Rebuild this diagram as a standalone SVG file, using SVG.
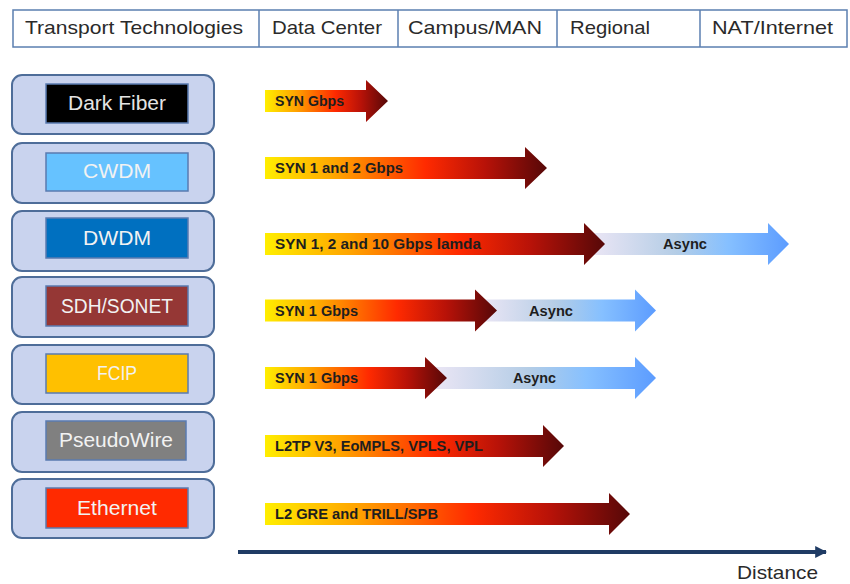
<svg xmlns="http://www.w3.org/2000/svg" width="850" height="584" viewBox="0 0 850 584">
<defs>
<linearGradient id="gSyn" x1="0" y1="0" x2="1" y2="0">
<stop offset="0" stop-color="#ffee00"/>
<stop offset="0.25" stop-color="#ffa400"/>
<stop offset="0.57" stop-color="#ff2a00"/>
<stop offset="0.78" stop-color="#b81208"/>
<stop offset="1" stop-color="#560808"/>
</linearGradient>
<linearGradient id="gAsync" x1="0" y1="0" x2="1" y2="0">
<stop offset="0" stop-color="#f0e8f6"/>
<stop offset="0.45" stop-color="#b4cde6"/>
<stop offset="0.7" stop-color="#86c0ff"/>
<stop offset="1" stop-color="#5c9cff"/>
</linearGradient>
<marker id="axisHead" viewBox="0 0 10 10" refX="9" refY="5" markerWidth="3" markerHeight="3" orient="auto">
<path d="M0,0 L10,5 L0,10 Z" fill="#1f3b64"/>
</marker>
</defs>
<style>
.hdr{fill:#ffffff;stroke:#5b7fb0;stroke-width:1.5}
.hdrline{stroke:#5b7fb0;stroke-width:1.5}
.htxt{font-family:"Liberation Sans",Arial,sans-serif;font-size:19px;fill:#2a2a2a}
.outer{fill:#c9d3ee;stroke:#4e6d99;stroke-width:2}
.inner{stroke:#5a7bb0;stroke-width:1.5}
.ntxt{font-family:"Liberation Sans",Arial,sans-serif;font-size:20px;fill:#f2f2f2;text-anchor:middle}
.syn{fill:url(#gSyn)}
.async{fill:url(#gAsync)}
.atxt{font-family:"Liberation Sans",Arial,sans-serif;font-size:14px;font-weight:bold;fill:#1e1e1e}
.axis{stroke:#1f3b64;stroke-width:4;fill:none}
</style>
<rect width="850" height="584" fill="#ffffff"/>

<g id="header">
<rect class="hdr" x="13" y="10" width="834" height="37"/>
<line class="hdrline" x1="259" y1="10" x2="259" y2="47"/>
<line class="hdrline" x1="398" y1="10" x2="398" y2="47"/>
<line class="hdrline" x1="557" y1="10" x2="557" y2="47"/>
<line class="hdrline" x1="700" y1="10" x2="700" y2="47"/>
<text class="htxt" x="25" y="34" textLength="218" lengthAdjust="spacingAndGlyphs">Transport Technologies</text>
<text class="htxt" x="272" y="34" textLength="110" lengthAdjust="spacingAndGlyphs">Data Center</text>
<text class="htxt" x="408" y="34" textLength="134" lengthAdjust="spacingAndGlyphs">Campus/MAN</text>
<text class="htxt" x="570" y="34" textLength="80" lengthAdjust="spacingAndGlyphs">Regional</text>
<text class="htxt" x="712" y="34" textLength="121" lengthAdjust="spacingAndGlyphs">NAT/Internet</text>
</g>

<g id="node-darkfiber">
<rect class="outer" x="12" y="75" width="202" height="59" rx="10"/>
<rect class="inner" x="46" y="84" width="142" height="39" fill="#000000"/>
<text class="ntxt" x="117" y="110" style="fill:#e4e4e4" textLength="98" lengthAdjust="spacingAndGlyphs">Dark Fiber</text>
</g>
<g id="node-cwdm">
<rect class="outer" x="12" y="143" width="202" height="60" rx="10"/>
<rect class="inner" x="46" y="153" width="142" height="38" fill="#66c2ff"/>
<text class="ntxt" x="117" y="178" textLength="68" lengthAdjust="spacingAndGlyphs">CWDM</text>
</g>
<g id="node-dwdm">
<rect class="outer" x="12" y="211" width="202" height="60" rx="10"/>
<rect class="inner" x="46" y="218" width="142" height="40" fill="#0070c0"/>
<text class="ntxt" x="117" y="245" textLength="68" lengthAdjust="spacingAndGlyphs">DWDM</text>
</g>
<g id="node-sdh">
<rect class="outer" x="12" y="277" width="202" height="60" rx="10"/>
<rect class="inner" x="46" y="286" width="142" height="40" fill="#953735"/>
<text class="ntxt" x="117" y="313" textLength="112" lengthAdjust="spacingAndGlyphs">SDH/SONET</text>
</g>
<g id="node-fcip">
<rect class="outer" x="12" y="345" width="202" height="59" rx="10"/>
<rect class="inner" x="46" y="354" width="142" height="39" fill="#ffc000"/>
<text class="ntxt" x="117" y="380" textLength="40" lengthAdjust="spacingAndGlyphs">FCIP</text>
</g>
<g id="node-pseudowire">
<rect class="outer" x="12" y="412" width="202" height="60" rx="10"/>
<rect class="inner" x="46" y="421" width="140" height="39" fill="#808080"/>
<text class="ntxt" x="116" y="447" textLength="114" lengthAdjust="spacingAndGlyphs">PseudoWire</text>
</g>
<g id="node-ethernet">
<rect class="outer" x="12" y="479" width="202" height="59" rx="10"/>
<rect class="inner" x="46" y="488" width="142" height="40" fill="#ff2a00"/>
<text class="ntxt" x="117" y="515" textLength="80" lengthAdjust="spacingAndGlyphs">Ethernet</text>
</g>

<g id="connectors">
<path class="syn" d="M265,90 H366 V80 L388,101 L366,122 V112 H265 Z"/>
<text class="atxt" x="275" y="106" textLength="69" lengthAdjust="spacingAndGlyphs">SYN Gbps</text>
<path class="syn" d="M265,157 H525 V147 L547,168 L525,189 V179 H265 Z"/>
<text class="atxt" x="275" y="173" textLength="128" lengthAdjust="spacingAndGlyphs">SYN 1 and 2 Gbps</text>
<path class="async" d="M584,233 H768 V223 L789,244 L768,265 V255 H584 Z"/>
<path class="syn" d="M265,233 H584 V223 L605,244 L584,265 V255 H265 Z"/>
<text class="atxt" x="275" y="249" textLength="206" lengthAdjust="spacingAndGlyphs">SYN 1, 2 and 10 Gbps lamda</text>
<text class="atxt" x="663" y="249" textLength="44" lengthAdjust="spacingAndGlyphs">Async</text>
<path class="async" d="M475,299.5 H635 V289.5 L656,310.5 L635,331.5 V321.5 H475 Z"/>
<path class="syn" d="M265,299.5 H475 V289.5 L497,310.5 L475,331.5 V321.5 H265 Z"/>
<text class="atxt" x="275" y="315.5" textLength="83" lengthAdjust="spacingAndGlyphs">SYN 1 Gbps</text>
<text class="atxt" x="529" y="315.5" textLength="44" lengthAdjust="spacingAndGlyphs">Async</text>
<path class="async" d="M425,367 H635 V357 L656,378 L635,399 V389 H425 Z"/>
<path class="syn" d="M265,367 H425 V357 L447,378 L425,399 V389 H265 Z"/>
<text class="atxt" x="275" y="383" textLength="83" lengthAdjust="spacingAndGlyphs">SYN 1 Gbps</text>
<text class="atxt" x="513" y="383" textLength="43" lengthAdjust="spacingAndGlyphs">Async</text>
<path class="syn" d="M265,435 H543 V425 L564,446 L543,467 V457 H265 Z"/>
<text class="atxt" x="275" y="451" textLength="208" lengthAdjust="spacingAndGlyphs">L2TP V3, EoMPLS, VPLS, VPL</text>
<path class="syn" d="M265,503 H609 V493 L630,514 L609,535 V525 H265 Z"/>
<text class="atxt" x="275" y="519" textLength="163" lengthAdjust="spacingAndGlyphs">L2 GRE and TRILL/SPB</text>
</g>

<g id="axis">
<line class="axis" x1="238" y1="552" x2="826" y2="552" marker-end="url(#axisHead)"/>
<text class="htxt" x="737" y="579" textLength="81" lengthAdjust="spacingAndGlyphs">Distance</text>
</g>
</svg>
